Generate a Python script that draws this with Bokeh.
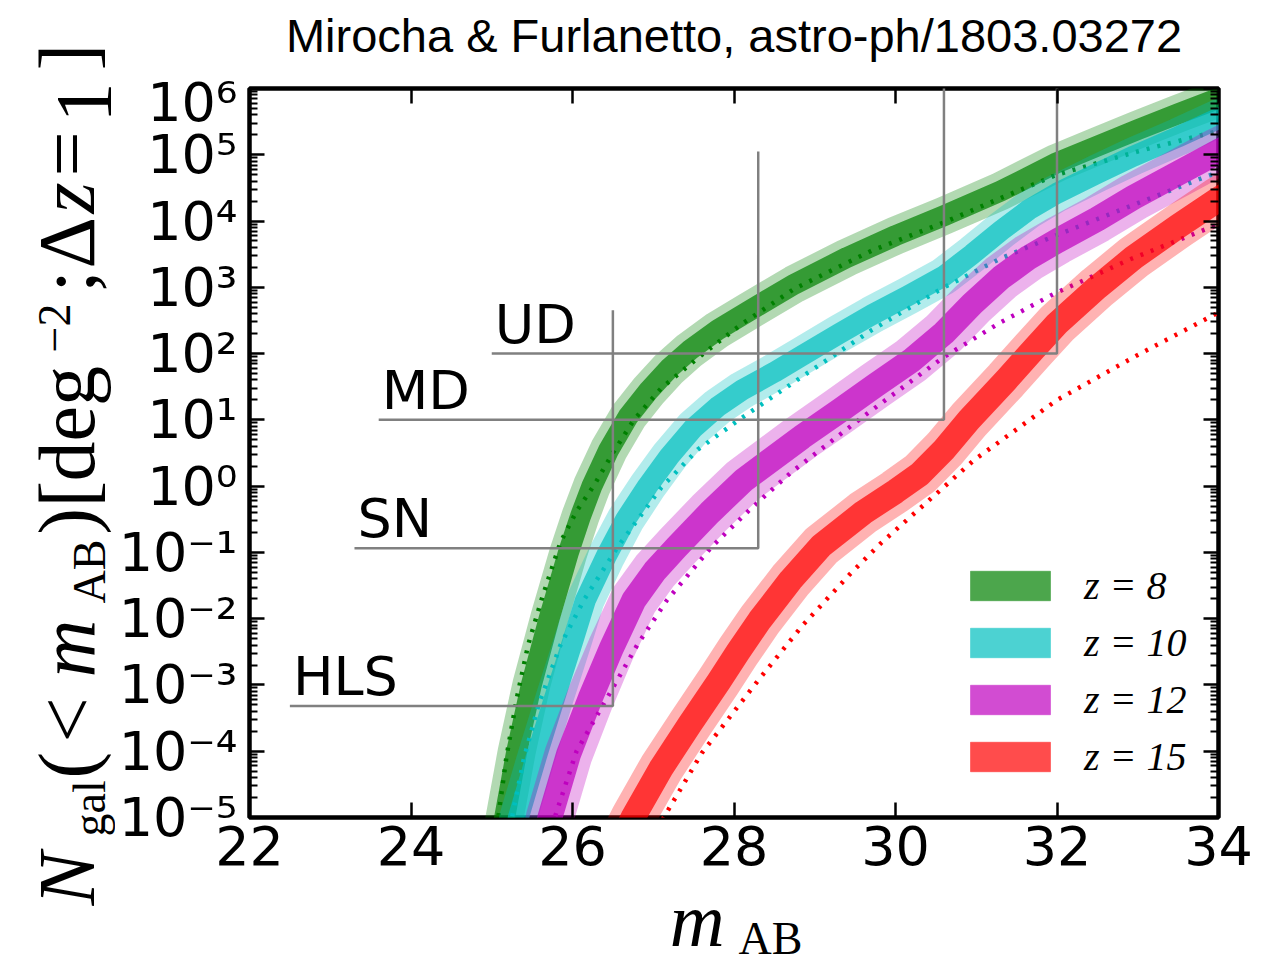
import numpy as np
from bokeh.plotting import figure
from bokeh.layouts import row, column
from bokeh.models import (Range1d, LinearAxis, LogAxis, FixedTicker,
                          CustomJSTickFormatter, Legend, LegendItem,
                          ColumnDataSource)
from bokeh.embed import file_html
from bokeh.resources import INLINE
from bokeh.core.properties import value

# ---------------- data ----------------
title_text = "Mirocha & Furlanetto, astro-ph/1803.03272"
redshift_labels = ["z = 8", "z = 10", "z = 12", "z = 15"]
band_colors = ["#008000", "#00bfbf", "#bf00bf", "#ff0000"]

# band centre curves (m_AB, log10 N)
m_z8 = [25.02, 25.16, 25.31, 25.49, 25.71, 25.95, 26.10, 26.24, 26.45, 26.69,
        26.95, 27.20, 27.45, 27.80, 28.18, 28.75, 29.40, 30.00, 30.60, 31.30,
        32.00, 32.50, 33.00, 33.50, 34.00, 34.50]
logN_z8 = [-5.8, -5.0, -4.0, -3.0, -2.0, -1.0, -0.45, 0.0, 0.55, 1.05,
           1.45, 1.78, 2.05, 2.36, 2.64, 3.05, 3.45, 3.78, 4.08, 4.45,
           4.88, 5.13, 5.38, 5.62, 5.85, 6.07]

m_z10 = [25.20, 25.33, 25.56, 25.79, 26.00, 26.16, 26.42, 26.66, 26.93, 27.20,
         27.50, 27.80, 28.10, 28.50, 28.83, 29.30, 29.70, 30.15, 30.60, 30.95,
         31.31, 31.65, 32.00, 32.50, 32.95, 33.50, 34.00, 34.50]
logN_z10 = [-5.8, -5.0, -4.05, -3.15, -2.35, -1.72, -1.05, -0.5, 0.0, 0.45,
            0.88, 1.2, 1.45, 1.72, 1.96, 2.3, 2.58, 2.87, 3.17, 3.5,
            3.86, 4.17, 4.42, 4.72, 4.98, 5.27, 5.55, 5.8]

m_z12 = [25.60, 25.72, 25.95, 26.22, 26.48, 26.76, 27.02, 27.29, 27.70, 28.12,
         28.84, 29.30, 29.75, 30.20, 30.60, 30.95, 31.31, 31.65, 32.00, 32.50,
         32.95, 33.50, 34.00, 34.50]
logN_z12 = [-5.8, -5.0, -4.05, -3.2, -2.45, -1.72, -1.28, -0.92, -0.4, 0.09,
            0.74, 1.13, 1.52, 1.9, 2.31, 2.75, 3.15, 3.45, 3.7, 4.03,
            4.36, 4.72, 5.05, 5.35]

m_z15 = [26.43, 26.75, 27.10, 27.45, 27.81, 28.05, 28.32, 28.70, 29.08, 29.60,
         30.00, 30.30, 30.60, 30.91, 31.37, 31.70, 32.00, 32.50, 32.95, 33.50,
         34.00, 34.50]
logN_z15 = [-5.8, -5.0, -4.25, -3.6, -2.95, -2.5, -2.02, -1.42, -0.9, -0.4,
            -0.08, 0.18, 0.55, 1.0, 1.6, 2.05, 2.45, 3.0, 3.45, 3.92,
            4.33, 4.7]

# dotted (reference model) curves
m_z8_dot = [25.00, 25.08, 25.18, 25.31, 25.45, 25.62, 25.85, 26.05, 26.26, 26.50,
            26.76, 27.10, 27.60, 28.10, 28.75, 29.70, 30.60, 31.31, 32.00, 33.00,
            33.83, 34.50]
logN_z8_dot = [-5.8, -5.0, -4.1, -3.2, -2.4, -1.7, -0.85, -0.38, 0.0, 0.5,
               1.0, 1.48, 1.98, 2.45, 2.98, 3.55, 3.98, 4.35, 4.70, 5.05,
               5.31, 5.50]

m_z10_dot = [25.15, 25.25, 25.40, 25.58, 25.85, 26.14, 26.57, 27.10, 27.55, 28.06,
             28.84, 29.70, 30.60, 31.31, 32.00, 33.00, 33.80, 34.50]
logN_z10_dot = [-5.8, -5.0, -4.1, -3.3, -2.4, -1.72, -0.9, -0.02, 0.55, 1.0,
                1.65, 2.35, 3.0, 3.44, 3.79, 4.27, 4.65, 4.95]

m_z12_dot = [25.70, 25.78, 26.05, 26.45, 26.80, 27.17, 27.72, 28.20, 28.70, 29.60,
             30.60, 31.30, 31.96, 32.90, 33.87, 34.50]
logN_z12_dot = [-5.8, -5.0, -4.0, -3.15, -2.4, -1.72, -0.92, -0.35, 0.2, 1.05,
                1.95, 2.47, 2.9, 3.42, 3.89, 4.15]

m_z15_dot = [26.85, 27.13, 27.60, 28.30, 28.85, 29.45, 29.82, 30.97, 32.00, 33.00,
             34.00, 34.50]
logN_z15_dot = [-5.8, -5.0, -4.03, -2.93, -2.1, -1.31, -0.86, 0.39, 1.3, 1.98,
                2.62, 2.9]

# survey limits
survey_names = ["UD", "MD", "SN", "HLS"]
survey_depth = [32.0, 30.6, 28.3, 26.5]
survey_nmin = [1.0e2, 1.0e1, 1.16e-1, 4.8e-4]
survey_hstart = [25.0, 23.6, 23.3, 22.5]
survey_vtop = [1.0e8, 1.0e7, 1.12e5, 4.5e2]

x_ticks = [22, 24, 26, 28, 30, 32, 34]
y_tick_exponents = list(range(-5, 7))

# ---------------- geometry ----------------
W, H = 1278, 957
YL_W = 115            # width of the strip holding the y-axis title
TT_H = 70             # height of the strip holding the title
XL_H = 57             # height of the strip holding the x-axis title
MAIN_W, MAIN_H = W - YL_W, H - TT_H - XL_H
BL, BR = 132, 60      # main figure side borders -> frame spans x = 247 .. 1218
FX0, FX1 = YL_W + BL, W - BR
X0, X1, Y0, Y1 = 22.0, 34.0, 1e-5, 1e6


def text_strip(width, height, xr, yr, bl=0, br=0):
    f = figure(width=width, height=height, x_range=Range1d(*xr), y_range=Range1d(*yr),
               x_axis_type=None, y_axis_type=None, output_backend="svg",
               toolbar_location=None, min_border=0, min_border_left=bl,
               min_border_right=br, min_border_top=0, min_border_bottom=0,
               background_fill_color="white", border_fill_color="white")
    f.outline_line_color = None
    return f


# ---------------- main figure ----------------
p = figure(width=MAIN_W, height=MAIN_H, x_range=Range1d(X0, X1), y_range=Range1d(Y0, Y1),
           y_axis_type="log", output_backend="svg", toolbar_location=None,
           min_border_left=BL, min_border_right=BR, min_border_top=18,
           min_border_bottom=MAIN_H - 18 - 729,
           background_fill_color="white", border_fill_color="white")
p.xgrid.visible = False
p.ygrid.visible = False
p.outline_line_color = "black"
p.outline_line_width = 4.5

xticker = FixedTicker(ticks=x_ticks, minor_ticks=[])
yticker = FixedTicker(ticks=[10.0 ** e for e in y_tick_exponents],
                      minor_ticks=[k * 10.0 ** e for e in y_tick_exponents[:-1] for k in range(2, 10)])
yfmt = CustomJSTickFormatter(code="""
const e = Math.round(Math.log10(tick));
const sup = {"-":"\u207b","0":"\u2070","1":"\u00b9","2":"\u00b2","3":"\u00b3",
             "4":"\u2074","5":"\u2075","6":"\u2076","7":"\u2077","8":"\u2078","9":"\u2079"};
return "10" + String(e).split("").map(c => sup[c]).join("");
""")


def style_axis(ax, labels=True):
    ax.axis_line_color = None
    ax.major_tick_in = 15
    ax.major_tick_out = 0
    ax.minor_tick_in = 8
    ax.minor_tick_out = 0
    ax.major_tick_line_width = 2.5
    ax.minor_tick_line_width = 2
    ax.major_tick_line_color = "black"
    ax.minor_tick_line_color = "black"
    if labels:
        ax.major_label_text_font = "DejaVu Sans"
        ax.major_label_text_font_size = "54px"
        ax.major_label_text_color = "black"
    else:
        ax.major_label_text_font_size = "2px"
        ax.major_label_text_color = None
        ax.major_label_standoff = 0


p.xaxis.ticker = xticker
style_axis(p.xaxis[0])
p.xaxis.major_label_standoff = 8
p.yaxis.ticker = yticker
p.yaxis.formatter = yfmt
style_axis(p.yaxis[0])
p.yaxis.major_label_standoff = 12

top_ax = LinearAxis(ticker=xticker)
style_axis(top_ax, labels=False)
p.add_layout(top_ax, "above")
right_ax = LogAxis(ticker=yticker)
style_axis(right_ax, labels=False)
p.add_layout(right_ax, "right")

# ---------------- bands ----------------
curves = [(m_z8, logN_z8, m_z8_dot, logN_z8_dot),
          (m_z10, logN_z10, m_z10_dot, logN_z10_dot),
          (m_z12, logN_z12, m_z12_dot, logN_z12_dot),
          (m_z15, logN_z15, m_z15_dot, logN_z15_dot)]
light_w = [38, 38, 48, 45]
dark_w = [21, 21, 25, 25]

for (m, lg, md, lgd), c, wl, wd in zip(curves, band_colors, light_w, dark_w):
    src = ColumnDataSource(dict(x=m, y=[10.0 ** v for v in lg]))
    p.line("x", "y", source=src, line_color=c, line_alpha=0.3, line_width=wl,
           line_join="round", line_cap="butt")
    p.line("x", "y", source=src, line_color=c, line_alpha=0.7, line_width=wd,
           line_join="round", line_cap="butt")
    dsrc = ColumnDataSource(dict(x=md, y=[10.0 ** v for v in lgd]))
    p.line("x", "y", source=dsrc, line_color=c, line_width=4.5, line_dash="3 8")

# ---------------- survey boxes ----------------
box_src = ColumnDataSource(dict(
    xs=[[h, d, d] for h, d in zip(survey_hstart, survey_depth)],
    ys=[[n, n, t] for n, t in zip(survey_nmin, survey_vtop)]))
p.multi_line("xs", "ys", source=box_src, line_color="#808080", line_width=2.5)

txt_src = ColumnDataSource(dict(x=survey_hstart, y=survey_nmin, t=survey_names))
p.text("x", "y", text="t", source=txt_src, x_offset=3, y_offset=2,
       text_font=value("DejaVu Sans"), text_font_size="54px",
       text_baseline="bottom", text_align="left", text_color="black")

# ---------------- legend ----------------
legend_src = ColumnDataSource(dict(l=np.array([np.nan]), r=np.array([np.nan]),
                                   b=np.array([np.nan]), t=np.array([np.nan])))
proxies = []
for c in band_colors:
    proxies.append(p.quad(left="l", right="r", bottom="b", top="t", source=legend_src,
                          fill_color=c, fill_alpha=0.7, line_color=c,
                          line_alpha=0.35, line_width=1))
legend = Legend(items=[LegendItem(label=value(l), renderers=[d]) for l, d in zip(redshift_labels, proxies)],
                location=(711, 37), orientation="vertical",
                glyph_width=100, glyph_height=37, label_standoff=24, spacing=10,
                padding=0, margin=0, border_line_color=None, background_fill_alpha=0,
                label_text_font="Liberation Serif", label_text_font_style="italic",
                label_text_font_size="40px", label_text_color="black")
p.add_layout(legend)

# ---------------- title strip ----------------
tfig = text_strip(MAIN_W, TT_H, (FX0, FX1), (TT_H, 0), BL, BR)
tfig.text(x=[(FX0 + FX1) / 2], y=[52 + 0.212 * 47], text=[title_text],
          text_font=value("Liberation Sans"), text_font_size="47px",
          text_align="center", text_baseline="bottom", text_color="black")

# ---------------- y-axis title strip (pieces in canvas pixels) ----------------
ylabel_pieces = [  # text, start (screen y), baseline (screen x), size, style
    ("N", 905, 93, 80, "italic"),
    ("gal", 836, 105, 46, "normal"),
    ("(", 778, 93, 80, "normal"),
    ("<", 742, 93, 80, "normal"),
    ("m", 677, 93, 80, "italic"),
    ("AB", 603, 105, 46, "normal"),
    (")", 534, 93, 80, "normal"),
    ("[", 507, 93, 80, "normal"),
    ("deg", 481, 93, 80, "normal"),
    ("\u22122", 352, 60, 46, "normal"),
    (";", 292, 93, 80, "normal"),
    ("\u0394", 268, 93, 80, "normal"),
    ("z", 213, 93, 80, "italic"),
    ("=", 176, 93, 80, "normal"),
    ("1", 122, 93, 80, "normal"),
    ("]", 70, 93, 80, "normal"),
]
yfig = text_strip(YL_W, H, (0, YL_W), (H, 0))
for t, py, px, size, style in ylabel_pieces:
    yfig.text(x=[px + 0.216 * size], y=[py], text=[t], angle=np.pi / 2,
              text_font=value("Liberation Serif"), text_font_size=f"{size}px",
              text_font_style=style, text_align="left", text_baseline="bottom",
              text_color="black")

# ---------------- x-axis title strip ----------------
xlabel_pieces = [("m", 668, 945, 76, "italic"), ("AB", 737, 954, 46, "normal")]
xfig = text_strip(MAIN_W, XL_H, (FX0, FX1), (H, H - XL_H), BL, BR)
for t, px, py, size, style in xlabel_pieces:
    xfig.text(x=[px], y=[py + 0.216 * size], text=[t], text_font=value("Liberation Serif"),
              text_font_size=f"{size}px", text_font_style=style, text_align="left",
              text_baseline="bottom", text_color="black")

layout = row(yfig, column(tfig, p, xfig, spacing=0), spacing=0)
open("out.html", "w").write(file_html(layout, INLINE))
